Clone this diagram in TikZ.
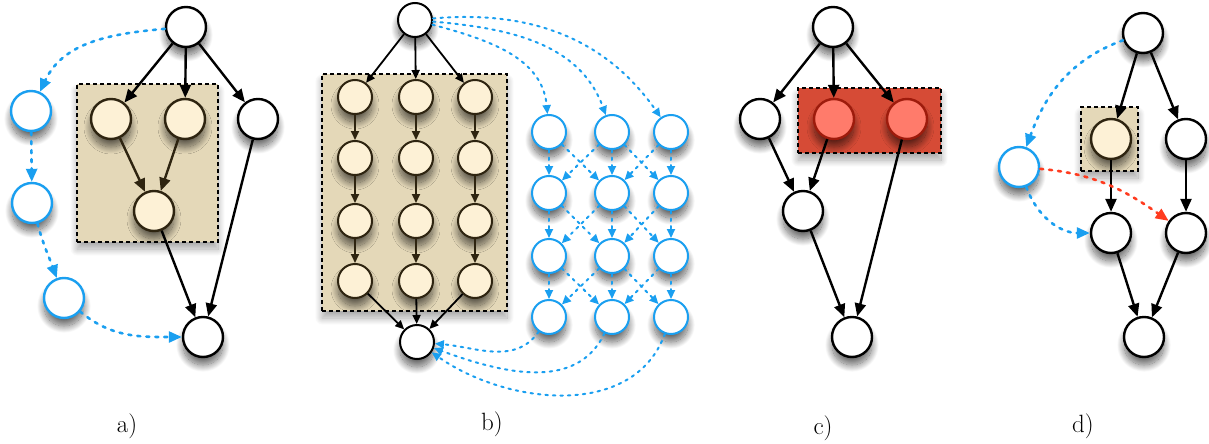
\documentclass[tikz,border=0pt]{standalone}
\usepackage{fontspec}
\usepackage{tikz}
\usetikzlibrary{arrows.meta,shadows,shadows.blur}
\definecolor{JobBlue}{HTML}{1A9FF0}
\definecolor{BoxTan}{HTML}{E4D8B8}
\definecolor{TanLight}{HTML}{FDF1D6}
\definecolor{TanDark}{HTML}{2E2410}
\definecolor{BoxRed}{HTML}{D64B36}
\definecolor{RedLight}{HTML}{FF7B6B}
\definecolor{RedDark}{HTML}{9E1B0C}
\definecolor{DashRed}{HTML}{FF3B1F}

\tikzset{
  job/.style={circle, draw=black, line width=2.4pt, fill=white,
    minimum size=40pt, inner sep=0pt,
    blur shadow={shadow xshift=0pt, shadow yshift=-8pt, shadow blur radius=7pt,
      shadow blur steps=20, shadow opacity=60}},
  small/.style={minimum size=34pt, line width=2pt},
  tanjob/.style={fill=TanLight, draw=TanDark},
  redjob/.style={fill=RedLight, draw=RedDark},
  remotejob/.style={draw=JobBlue},
  groupbox/.style={rectangle, draw=black, line width=2pt, dash pattern=on 4pt off 3pt,
    inner sep=0pt, blur shadow={shadow xshift=0pt, shadow yshift=-7pt, shadow blur radius=7pt,
      shadow blur steps=20, shadow opacity=35}},
  tanbox/.style={groupbox, fill=BoxTan},
  redbox/.style={groupbox, fill=BoxRed},
  dep/.style={-{Triangle[length=13pt,width=11pt]}, line width=2.4pt},
  smalldep/.style={-{Triangle[length=9pt,width=8pt]}, line width=1.8pt},
  remote/.style={dep, JobBlue, line width=2.6pt, dash pattern=on 3pt off 6pt, line cap=round},
  smallremote/.style={smalldep, JobBlue, line width=2pt, dash pattern=on 2.5pt off 5pt, line cap=round},
  panel/.style={font=\fontsize{25}{30}\selectfont}
}

\begin{document}
\begin{tikzpicture}[x=1pt,y=-1pt]
\useasboundingbox (0,0) rectangle (1209,444);

% a)
\node[tanbox, minimum width=141pt, minimum height=158pt] (aBox) at (147.5,163) {};
\node[job] (aTop) at (186,27) {};
\node[job, tanjob] (aJ1) at (111,119) {};
\node[job, tanjob] (aJ2) at (185,119) {};
\node[job, tanjob] (aJ3) at (154,211) {};
\node[job] (aSide) at (258,119) {};
\node[job] (aEnd) at (203,337) {};
\node[job, remotejob] (aR1) at (31,111) {};
\node[job, remotejob] (aR2) at (32,203) {};
\node[job, remotejob] (aR3) at (64,298) {};
\draw[dep] (aTop) -- (aJ1);
\draw[dep] (aTop) -- (aJ2);
\draw[dep] (aTop) -- (aSide);
\draw[dep, TanDark] (aJ1) -- (aJ3);
\draw[dep, TanDark] (aJ2) -- (aJ3);
\draw[dep] (aJ3) -- (aEnd);
\draw[dep] (aSide) -- (aEnd);
\draw[remote] (aTop) to[out=185,in=65] (aR1);
\draw[remote] (aR1) -- (aR2);
\draw[remote] (aR2) to[out=-75,in=110] (aR3);
\draw[remote] (aR3) to[out=-40,in=180] (aEnd);
\node[panel] (aLabel) at (127,426) {a)};

% b)
\node[tanbox, minimum width=185pt, minimum height=237pt] (bBox) at (414.5,192.5) {};
\node[job, small] (bTop) at (415,20) {};
\node[job, small] (bEnd) at (417,342) {};
\foreach \c/\x in {1/355,2/416,3/475}
  \foreach \r/\y in {1/97,2/158,3/221,4/281}
    \node[job, small, tanjob] (bT\c\r) at (\x,\y) {};
\foreach \c/\x in {1/549,2/612,3/671}
  \foreach \r/\y in {1/132,2/193,3/256,4/317}
    \node[job, small, remotejob] (bB\c\r) at (\x,\y) {};
\foreach \c in {1,2,3} {
  \draw[smalldep] (bTop) -- (bT\c1);
  \draw[smalldep] (bT\c4) -- (bEnd);
  \foreach \r/\s in {1/2,2/3,3/4} {
    \draw[smalldep, TanDark] (bT\c\r) -- (bT\c\s);
    \draw[smallremote] (bB\c\r) -- (bB\c\s);
  }
}
\foreach \c/\d in {1/2,2/1,2/3,3/2}
  \foreach \r/\s in {1/2,2/3,3/4}
    \draw[smallremote] (bB\c\r) -- (bB\d\s);
\draw[smallremote] (bTop) to[out=-15,in=95] (bB11);
\draw[smallremote] (bTop) to[out=-5,in=110] (bB21);
\draw[smallremote] (bTop) to[out=5,in=125] (bB31);
\draw[smallremote] (bB14) to[out=-125,in=-5] (bEnd);
\draw[smallremote] (bB24) to[out=-115,in=-20] (bEnd);
\draw[smallremote] (bB34) to[out=-110,in=-35] (bEnd);
\node[panel] (bLabel) at (492,424) {b)};

% c)
\node[redbox, minimum width=143pt, minimum height=65pt] (cBox) at (869.5,120.5) {};
\node[job] (cTop) at (833,27) {};
\node[job] (cLeft) at (760,119) {};
\node[job, redjob] (cRed1) at (834,119) {};
\node[job, redjob] (cRed2) at (907,119) {};
\node[job] (cMid) at (803,211) {};
\node[job] (cEnd) at (852,337) {};
\draw[dep] (cTop) -- (cLeft);
\draw[dep] (cTop) -- (cRed1);
\draw[dep] (cTop) -- (cRed2);
\draw[dep] (cLeft) -- (cMid);
\draw[dep] (cRed1) -- (cMid);
\draw[dep] (cMid) -- (cEnd);
\draw[dep] (cRed2) -- (cEnd);
\node[panel] (cLabel) at (823,428) {c)};

% d)
\node[tanbox, minimum width=57pt, minimum height=64pt] (dBox) at (1109.5,139) {};
\node[job] (dTop) at (1143,33) {};
\node[job, tanjob] (dTan) at (1111,139) {};
\node[job] (dSide) at (1186,139) {};
\node[job, remotejob] (dRem) at (1019,167) {};
\node[job] (dL) at (1111,233) {};
\node[job] (dR) at (1186,233) {};
\node[job] (dEnd) at (1144,337) {};
\draw[dep] (dTop) -- (dTan);
\draw[dep] (dTop) -- (dSide);
\draw[dep] (dTan) -- (dL);
\draw[dep] (dSide) -- (dR);
\draw[dep] (dL) -- (dEnd);
\draw[dep] (dR) -- (dEnd);
\draw[remote] (dTop) to[out=200,in=70] (dRem);
\draw[remote] (dRem) to[out=-70,in=180] (dL);
\draw[remote, DashRed] (dRem) to[out=-5,in=145] (dR);
\node[panel] (dLabel) at (1083,426) {d)};
\end{tikzpicture}
\end{document}
